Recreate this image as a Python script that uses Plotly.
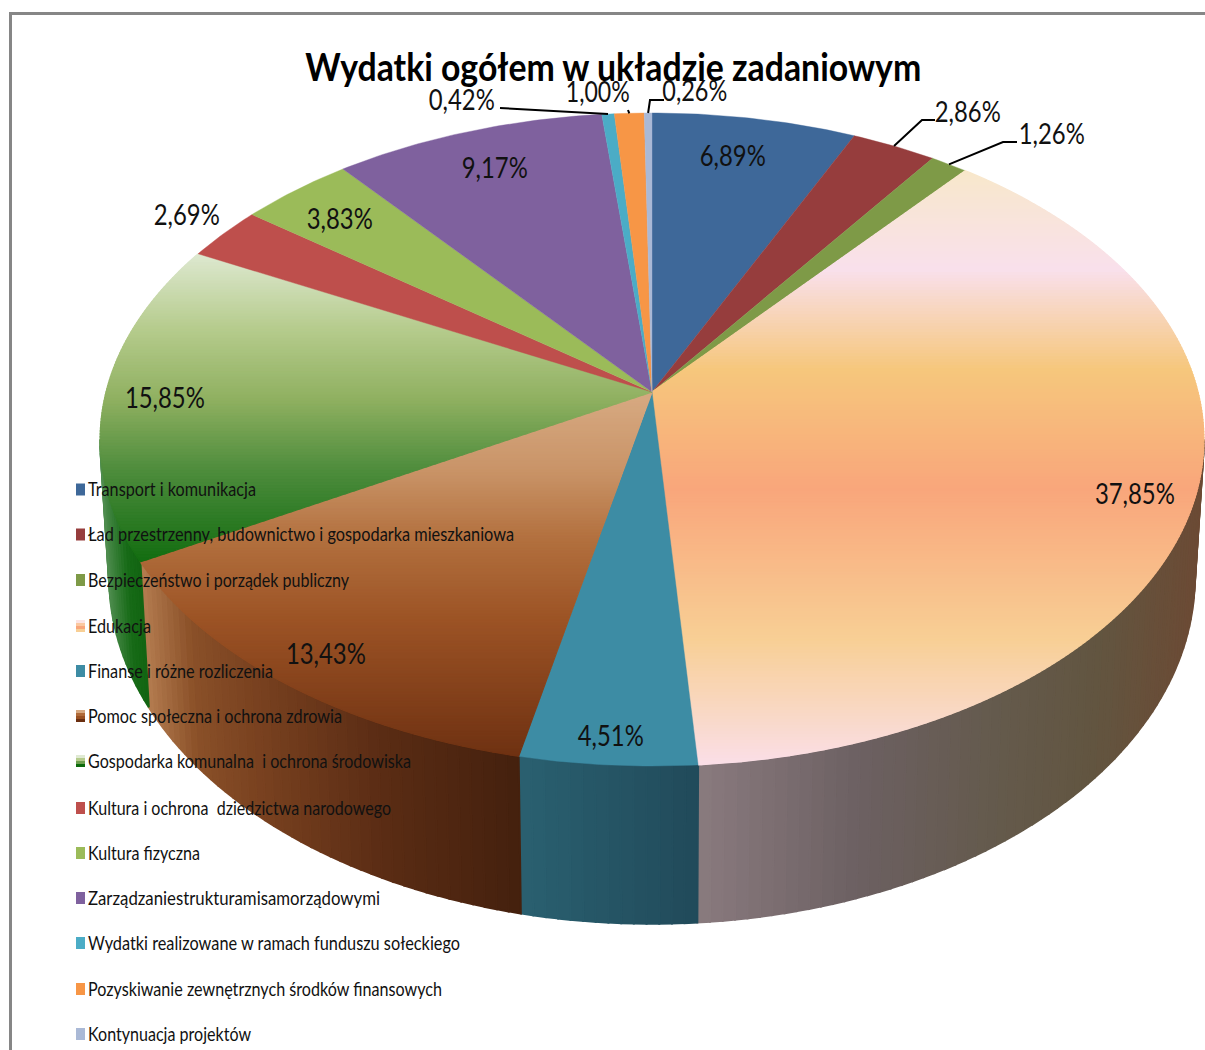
import json
import math
import plotly.graph_objects as go

# ---------- data ----------
categories = [
    "Transport i komunikacja",
    "Ład przestrzenny, budownictwo i gospodarka mieszkaniowa",
    "Bezpieczeństwo i porządek publiczny",
    "Edukacja",
    "Finanse i różne rozliczenia",
    "Pomoc społeczna i ochrona zdrowia",
    "Gospodarka komunalna  i ochrona środowiska",
    "Kultura i ochrona  dziedzictwa narodowego",
    "Kultura fizyczna",
    "Zarządzaniestrukturamisamorządowymi",
    "Wydatki realizowane w ramach funduszu sołeckiego",
    "Pozyskiwanie zewnętrznych środków finansowych",
    "Kontynuacja projektów",
]
values = [6.89, 2.86, 1.26, 37.85, 4.51, 13.43, 15.85, 2.69, 3.83, 9.17, 0.42, 1.00, 0.26]
colors = ["#3E6899", "#963D3D", "#7E9A47", "#F9A67B", "#3D8CA4", "#9A5122", "#4E8C3C",
          "#BE4F4C", "#9BBB59", "#7F619E", "#4BACC6", "#F79646", "#AAB9D6"]
title_text = "Wydatki ogółem w układzie zadaniowym"

# ---------- styling / layout ----------
FONT = "Lato"
top_grad = {
    3: [(165, "#F8E8C8"), (270, "#F9E0EC"), (370, "#F6C77C"), (490, "#F9A67B"), (640, "#F8CF95"), (770, "#FADFEA")],
    5: [(400, "#D6A880"), (470, "#C99468"), (540, "#B2703E"), (620, "#9C5325"), (770, "#6A2E10")],
    6: [(250, "#E0EAD4"), (330, "#B5CB8C"), (400, "#8FB060"), (470, "#4E8C3C"), (570, "#0C6A0C")],
}
wall_grad = {
    3: [(696, "#8A7B7F"), (860, "#6C6062"), (1000, "#645A4C"), (1100, "#625540"), (1205, "#6C4A34")],
    4: [(518, "#2A6070"), (698, "#214A5A")],
    5: [(140, "#B47C50"), (190, "#8A5028"), (250, "#7A4220"), (380, "#5A2C14"), (520, "#44200E")],
    6: [(100, "#4E8C4E"), (125, "#176B17"), (150, "#0F5F0F")],
}
label_pos = [(733, 155), (968, 111), (1052, 133), (1135, 493), (611, 735), (326, 653), (165, 397),
             (187, 214), (340, 218), (495, 167), (462, 99), (598, 91), (695, 90)]
leader_elbows = {1: [(922, 120), (935, 120)], 2: [(1003, 142), (1017, 142)],
                 10: [(500, 108)], 11: [(628, 110)], 12: [(650, 100), (664, 100)]}
legend_y = [488, 533, 578.5, 624.5, 669.5, 714.5, 759.5, 806.5, 851.5, 896.5, 941.5, 987.5, 1032.5]
swatch_y = [489.5, 534.5, 580, 626, 671, 716, 761, 808, 853, 898, 943, 989, 1034]
# horizontal extent each text occupies in the picture (pixels)
title_width = 616
label_widths = [66, 66, 66, 80, 66, 80, 80, 66, 66, 66, 66, 64, 65]
legend_widths = [168, 426, 261, 63, 185, 254, 323, 303, 112, 292, 372, 354, 163]

# perspective projection of the disc
CX, APEX_Y, K, H, C = 652, 392, 546, 319.6, 0.1455
BOT_Y, BOT_K, BOT_H = 527, 537, 339


def top_pt(t):
    d = 1 + C * math.cos(t)
    return CX + K * math.sin(t) / d, APEX_Y - H * math.cos(t) / d


def bot_pt(t):
    d = 1 + C * math.cos(t)
    return CX + BOT_K * math.sin(t) / d, BOT_Y - BOT_H * math.cos(t) / d


def rgb(h):
    return tuple(int(h[i:i + 2], 16) for i in (1, 3, 5))


def lerp_color(stops, v):
    if v <= stops[0][0]:
        return stops[0][1]
    for (a, ca), (b, cb) in zip(stops, stops[1:]):
        if v <= b:
            f = (v - a) / (b - a)
            ra, rb = rgb(ca), rgb(cb)
            return "#%02X%02X%02X" % tuple(round(x + (y - x) * f) for x, y in zip(ra, rb))
    return stops[-1][1]


def clip(poly, limit, keep_below):
    out = []
    inside = (lambda p: p[1] >= limit) if keep_below else (lambda p: p[1] <= limit)
    for i, p in enumerate(poly):
        q = poly[i - 1]
        if inside(p) != inside(q):
            f = (limit - q[1]) / (p[1] - q[1])
            out.append((q[0] + (p[0] - q[0]) * f, limit))
        if inside(p):
            out.append(p)
    return out


fig = go.Figure()


def add_poly(poly, color, name, width=0.4):
    xs = [p[0] for p in poly] + [poly[0][0]]
    ys = [p[1] for p in poly] + [poly[0][1]]
    fig.add_trace(go.Scatter(x=xs, y=ys, mode="lines", fill="toself", fillcolor=color,
                             line=dict(color=color, width=width), name=name,
                             hoverinfo="name", showlegend=False))


total = sum(values)
edges = [0.0]
for v in values:
    edges.append(edges[-1] + v / total * 2 * math.pi)

# side wall: only the part of the rim that faces the viewer
T_MIN, T_MAX = math.acos(-C), 2 * math.pi - math.acos(-C)
for i, name in enumerate(categories):
    a, b = max(edges[i], T_MIN), min(edges[i + 1], T_MAX)
    if a >= b:
        continue
    n = max(2, int((b - a) / 0.02))
    for j in range(n):
        t0 = a + (b - a) * j / n
        t1 = a + (b - a) * (j + 1) / n
        quad = [top_pt(t0), top_pt(t1), bot_pt(t1), bot_pt(t0)]
        stops = wall_grad.get(i, [(0, colors[i]), (1205, colors[i])])
        add_poly(quad, lerp_color(stops, (quad[0][0] + quad[1][0]) / 2), name, width=2)

# top surface
for i, name in enumerate(categories):
    n = max(3, int((edges[i + 1] - edges[i]) / 0.012))
    rim = [top_pt(edges[i] + (edges[i + 1] - edges[i]) * j / n) for j in range(n + 1)]
    poly = [(CX, APEX_Y)] + rim
    if i in top_grad:
        stops = top_grad[i]
        ymin, ymax = min(p[1] for p in poly), max(p[1] for p in poly)
        y = ymin
        step = 3
        while y < ymax:
            band = clip(clip(poly, y, True), y + step, False)
            if len(band) >= 3:
                add_poly(band, lerp_color(stops, y + step / 2), name, width=1.2)
            y += step
    else:
        add_poly(poly, colors[i], name)

# leader lines
for i, elbows in leader_elbows.items():
    anchor = top_pt((edges[i] + edges[i + 1]) / 2)
    pts = [anchor] + elbows
    fig.add_trace(go.Scatter(x=[p[0] for p in pts], y=[p[1] for p in pts], mode="lines",
                             line=dict(color="#000000", width=2), hoverinfo="skip", showlegend=False))

annotations = [dict(x=613, y=66, xref="x", yref="y", text=f"<b>{title_text}</b>", showarrow=False,
                    font=dict(family=FONT, size=39, color="#000000"))]
for i, v in enumerate(values):
    px, py = label_pos[i]
    annotations.append(dict(x=px, y=py, xref="x", yref="y", text=f"{v:.2f}%".replace(".", ","),
                            showarrow=False, font=dict(family=FONT, size=28, color="#111111")))

shapes = [dict(type="path", path="M 10.5 1050 L 10.5 13.5 L 1205 13.5", xref="x", yref="y",
               line=dict(color="#868686", width=3), layer="above")]
swatch_grad = {3: ["#FCE4E4", "#FBC8A0", "#F9A67B", "#F8CF95"],
               5: ["#D6A880", "#B06A38", "#9A5122", "#6A2E10"],
               6: ["#E0EAD4", "#B5CB8C", "#6FA050", "#0C6A0C"]}
for i, name in enumerate(categories):
    ly = swatch_y[i]
    if i in swatch_grad:
        cols = swatch_grad[i]
        for k, col in enumerate(cols):
            shapes.append(dict(type="rect", x0=76, x1=85, y0=ly - 6 + 12 * k / len(cols),
                               y1=ly - 6 + 12 * (k + 1) / len(cols), xref="x", yref="y",
                               fillcolor=col, line=dict(width=0), layer="above"))
    else:
        shapes.append(dict(type="rect", x0=76, x1=85, y0=ly - 6, y1=ly + 6, xref="x", yref="y",
                           fillcolor=colors[i], line=dict(width=0), layer="above"))
    annotations.append(dict(x=86, y=legend_y[i], xref="x", yref="y", xanchor="left", text=name,
                            showarrow=False, font=dict(family=FONT, size=20, color="#111111")))

fig.update_layout(
    width=1205, height=1050, margin=dict(l=0, r=0, t=0, b=0, pad=0, autoexpand=False),
    paper_bgcolor="#FFFFFF", plot_bgcolor="#FFFFFF", showlegend=False,
    xaxis=dict(range=[0, 1205], visible=False, fixedrange=True),
    yaxis=dict(range=[1050, 0], visible=False, fixedrange=True),
    annotations=annotations, shapes=shapes,
)

# The reference's lettering is horizontally squeezed: fit each real text to its measured width.
fit_spec = [[w, False] for w in [title_width] + label_widths]
fit_spec += [[w, True] for w in legend_widths]
post = """
document.body.style.margin='0';
document.documentElement.style.overflow='hidden';
var spec = %s;
function fitTexts() {
  var nodes = document.querySelectorAll('text.annotation-text');
  nodes.forEach(function (t, i) {
    if (!spec[i] || t.getAttribute('data-fit')) return;
    var w = t.getComputedTextLength();
    t.setAttribute('textLength', spec[i][0]);
    t.setAttribute('lengthAdjust', 'spacingAndGlyphs');
    if (spec[i][1]) t.setAttribute('x', parseFloat(t.getAttribute('x')) - (w - spec[i][0]) / 2);
    t.setAttribute('data-fit', '1');
  });
}
var gd = document.getElementById('{plot_id}');
fitTexts();
if (gd.on) gd.on('plotly_afterplot', fitTexts);
setTimeout(fitTexts, 0);
""" % json.dumps(fit_spec)
fig.write_html("out.html", config=dict(displayModeBar=False), post_script=post)
